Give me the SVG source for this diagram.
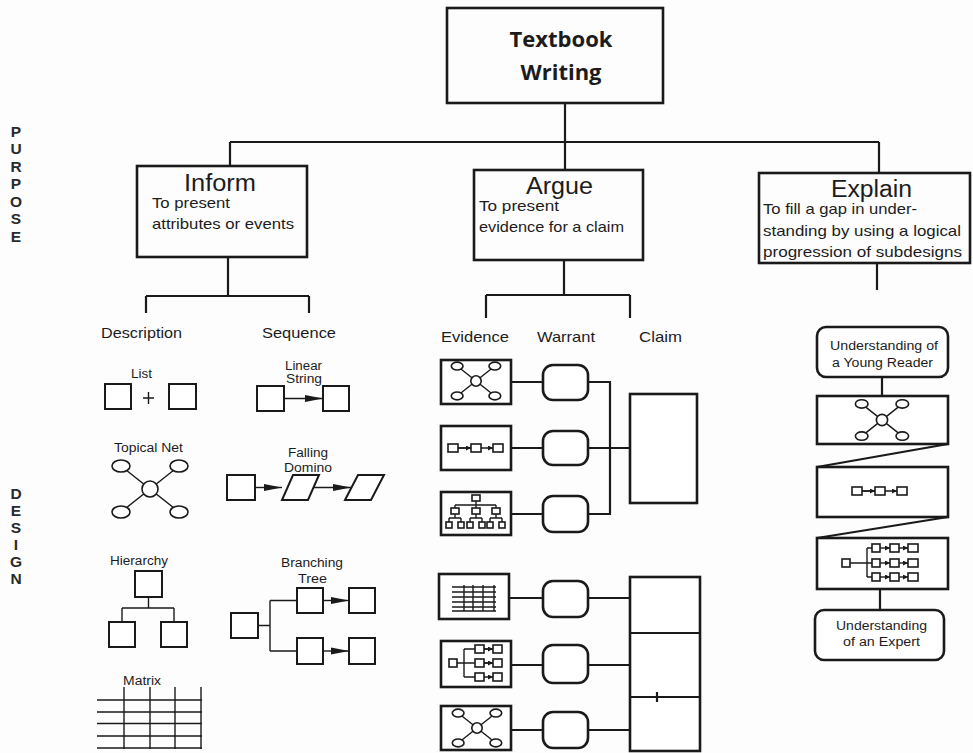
<svg xmlns="http://www.w3.org/2000/svg" xmlns:xlink="http://www.w3.org/1999/xlink" width="973" height="753" viewBox="0 0 973 753">
<style>
text{font-family:"Liberation Sans","Arial",sans-serif;fill:#1c1c1c}
.bx{fill:none;stroke:#1a1a1a;stroke-width:2.6}
.bxw{fill:#fff;stroke:#1a1a1a;stroke-width:2.6}
.ln{fill:none;stroke:#1a1a1a;stroke-width:2.2}
.ic{fill:#fff;stroke:#1a1a1a;stroke-width:1.6}
.icl{fill:none;stroke:#1a1a1a;stroke-width:1.4}
.sq{fill:#fff;stroke:#1a1a1a;stroke-width:2}
.ttl{font-family:"Liberation Sans Narrow","Liberation Sans",sans-serif;font-size:23px}
.sub{font-family:"Liberation Sans Narrow","Liberation Sans",sans-serif;font-size:15px}
.hd{font-size:15px}
.lb{font-size:12.5px}
.un{font-size:12.5px}
.side{font-size:15.5px;font-weight:bold;text-anchor:middle;fill:#2a2a2a}
.top{font-family:"Open Sans","Liberation Sans",sans-serif;font-weight:bold;font-size:22px;text-anchor:middle}
</style>
<defs>
<marker id="ba" markerUnits="userSpaceOnUse" markerWidth="18" markerHeight="9" refX="18" refY="4.5" orient="auto"><path d="M0,1 L18,4.5 L0,8 z" fill="#1a1a1a"/></marker>
<marker id="sa" markerUnits="userSpaceOnUse" markerWidth="5" markerHeight="5" refX="5" refY="2.5" orient="auto"><path d="M0,0 L5,2.5 L0,5 z" fill="#1a1a1a"/></marker>
<g id="net">
<path class="icl" vector-effect="non-scaling-stroke" stroke-width="1.8" d="M-29,-23 L29,23 M29,-23 L-29,23"/>
<circle class="ic" vector-effect="non-scaling-stroke" r="8"/>
<ellipse class="ic" vector-effect="non-scaling-stroke" cx="-29" cy="-23" rx="9" ry="6"/>
<ellipse class="ic" vector-effect="non-scaling-stroke" cx="29" cy="-23" rx="9" ry="6"/>
<ellipse class="ic" vector-effect="non-scaling-stroke" cx="-29" cy="23" rx="9" ry="6"/>
<ellipse class="ic" vector-effect="non-scaling-stroke" cx="29" cy="23" rx="9" ry="6"/>
</g>
<g id="chain">
<path class="icl" d="M10,0 H23 M33,0 H45" marker-end="url(#sa)"/>
<path class="icl" d="M10,0 H23" marker-end="url(#sa)"/>
<rect class="ic" x="0" y="-4" width="10" height="8"/>
<rect class="ic" x="23" y="-4" width="10" height="8"/>
<rect class="ic" x="45" y="-4" width="10" height="8"/>
</g>
</defs>
<rect width="973" height="753" fill="#fdfdfd"/>

<!-- side labels -->
<g id="purpose">
<text class="side" x="16" y="137">P</text>
<text class="side" x="16" y="154">U</text>
<text class="side" x="16" y="172">R</text>
<text class="side" x="16" y="189">P</text>
<text class="side" x="16" y="207">O</text>
<text class="side" x="16" y="224">S</text>
<text class="side" x="16" y="242">E</text>
</g>
<g id="design">
<text class="side" x="16" y="499">D</text>
<text class="side" x="16" y="516">E</text>
<text class="side" x="16" y="533">S</text>
<text class="side" x="16" y="550">I</text>
<text class="side" x="16" y="567">G</text>
<text class="side" x="16" y="584">N</text>
</g>

<!-- connectors -->
<g id="connectors">
<path class="ln" d="M565,103 V142 M230,142 H879 M230,142 V166 M565,142 V170 M879,142 V173"/>
<path class="ln" d="M228,257 V296 M146,296 H309 M146,296 V313 M309,296 V313"/>
<path class="ln" d="M564,260 V295 M486,295 H630 M486,295 V318 M630,295 V318"/>
<path class="ln" d="M877,263 V290"/>
<path class="ln" d="M511,382 H543 M588,382 H610 V514 H588 M511,448 H543 M588,448 H630 M511,514 H543"/>
<path class="ln" d="M509,598 H543 M588,598 H630 M511,665 H543 M588,665 H630 M511,730 H543 M588,730 H630"/>
<path class="ln" d="M882,377 V396 M880,589 V610"/>
<path class="ln" stroke-width="3" d="M948,444 L817,467 M948,517 L817,538"/>
</g>

<!-- top node -->
<g id="textbook-writing">
<rect class="bx" x="447" y="8" width="216" height="95"/>
<text class="top" x="561" y="47" textLength="103" lengthAdjust="spacingAndGlyphs">Textbook</text>
<text class="top" x="561" y="80" textLength="81" lengthAdjust="spacingAndGlyphs">Writing</text>
</g>

<g id="inform">
<rect class="bx" x="137" y="166" width="170" height="91"/>
<text class="ttl" x="184" y="191" textLength="72" lengthAdjust="spacingAndGlyphs">Inform</text>
<text class="sub" x="152" y="208" textLength="78" lengthAdjust="spacingAndGlyphs">To present</text>
<text class="sub" x="152" y="229" textLength="142" lengthAdjust="spacingAndGlyphs">attributes or events</text>
</g>

<g id="argue">
<rect class="bx" x="474" y="170" width="169" height="90"/>
<text class="ttl" x="526" y="194" textLength="67" lengthAdjust="spacingAndGlyphs">Argue</text>
<text class="sub" x="479" y="211" textLength="80" lengthAdjust="spacingAndGlyphs">To present</text>
<text class="sub" x="479" y="232" textLength="145" lengthAdjust="spacingAndGlyphs">evidence for a claim</text>
</g>

<g id="explain">
<rect class="bx" x="759" y="173" width="211" height="90"/>
<text class="ttl" x="831" y="197" textLength="81" lengthAdjust="spacingAndGlyphs">Explain</text>
<text class="sub" x="763" y="214" textLength="154" lengthAdjust="spacingAndGlyphs">To fill a gap in under-</text>
<text class="sub" x="763" y="236" textLength="198" lengthAdjust="spacingAndGlyphs">standing by using a logical</text>
<text class="sub" x="763" y="257" textLength="199" lengthAdjust="spacingAndGlyphs">progression of subdesigns</text>
</g>

<!-- Inform designs -->
<g id="description-label"><text class="hd" x="101" y="338" textLength="81" lengthAdjust="spacingAndGlyphs">Description</text></g>
<g id="sequence-label"><text class="hd" x="262" y="338" textLength="74" lengthAdjust="spacingAndGlyphs">Sequence</text></g>

<g id="list">
<text class="lb" x="131" y="378" textLength="21" lengthAdjust="spacingAndGlyphs">List</text>
<rect class="sq" x="105" y="384" width="26" height="25"/>
<rect class="sq" x="169" y="384" width="27" height="25"/>
<path class="icl" stroke-width="1.8" d="M143,398 H154 M148.5,392 V404"/>
</g>

<g id="linear-string">
<text class="lb" x="285" y="370" textLength="37" lengthAdjust="spacingAndGlyphs">Linear</text>
<text class="lb" x="286" y="383" textLength="36" lengthAdjust="spacingAndGlyphs">String</text>
<rect class="sq" x="257" y="386" width="27" height="25"/>
<rect class="sq" x="323" y="386" width="26" height="25"/>
<path class="icl" stroke-width="1.8" d="M284,398.5 H323" marker-end="url(#ba)"/>
</g>

<g id="topical-net">
<text class="lb" x="114" y="452" textLength="69" lengthAdjust="spacingAndGlyphs">Topical Net</text>
<use xlink:href="#net" transform="translate(150,489)"/>
</g>

<g id="falling-domino">
<text class="lb" x="288" y="457" textLength="40" lengthAdjust="spacingAndGlyphs">Falling</text>
<text class="lb" x="284" y="472" textLength="48" lengthAdjust="spacingAndGlyphs">Domino</text>
<rect class="sq" x="227" y="475" width="28" height="25"/>
<path class="icl" stroke-width="1.8" d="M255,487.5 H282" marker-end="url(#ba)"/>
<polygon class="sq" points="293,475 319,475 308,500 282,500"/>
<path class="icl" stroke-width="1.8" d="M313.5,487.5 H351" marker-end="url(#ba)"/>
<polygon class="sq" points="358,475 384,475 371,500 345,500"/>
</g>

<g id="hierarchy">
<text class="lb" x="110" y="565" textLength="58" lengthAdjust="spacingAndGlyphs">Hierarchy</text>
<rect class="sq" x="135" y="571" width="27" height="26"/>
<path class="icl" stroke-width="1.8" d="M148.5,597 V608 M122,608 H174 M122,608 V622 M174,608 V622"/>
<rect class="sq" x="109" y="622" width="26" height="25"/>
<rect class="sq" x="161" y="622" width="26" height="25"/>
</g>

<g id="branching-tree">
<text class="lb" x="281" y="567" textLength="62" lengthAdjust="spacingAndGlyphs">Branching</text>
<text class="lb" x="298" y="583" textLength="29" lengthAdjust="spacingAndGlyphs">Tree</text>
<rect class="sq" x="231" y="613" width="27" height="25"/>
<path class="icl" stroke-width="1.8" d="M258,625.5 H270 M270,600.5 V651 M270,600.5 H297 M270,651 H297"/>
<rect class="sq" x="297" y="588" width="26" height="25"/>
<rect class="sq" x="297" y="638" width="26" height="26"/>
<path class="icl" stroke-width="1.8" d="M323,600.5 H349" marker-end="url(#ba)"/>
<path class="icl" stroke-width="1.8" d="M323,651 H349" marker-end="url(#ba)"/>
<rect class="sq" x="349" y="588" width="26" height="25"/>
<rect class="sq" x="349" y="638" width="26" height="26"/>
</g>

<g id="matrix">
<text class="lb" x="123" y="685" textLength="38" lengthAdjust="spacingAndGlyphs">Matrix</text>
<path class="icl" stroke-width="1.9" d="M124,687 V749 M150,687 V749 M175,687 V749 M201,687 V749 M97,700 H202 M97,712 H202 M97,723.5 H202 M97,736 H202 M97,748 H202"/>
</g>

<!-- Argue designs -->
<g id="evidence-label"><text class="hd" x="441" y="342" textLength="68" lengthAdjust="spacingAndGlyphs">Evidence</text></g>
<g id="warrant-label"><text class="hd" x="537" y="342" textLength="58" lengthAdjust="spacingAndGlyphs">Warrant</text></g>
<g id="claim-label"><text class="hd" x="639" y="342" textLength="43" lengthAdjust="spacingAndGlyphs">Claim</text></g>

<g id="evidence-1">
<rect class="bxw" x="441" y="360" width="70" height="44"/>
<use xlink:href="#net" transform="translate(476,381) scale(0.65)"/>
</g>
<g id="evidence-2">
<rect class="bxw" x="441" y="426" width="70" height="44"/>
<use xlink:href="#chain" transform="translate(448,448)"/>
</g>
<g id="evidence-3">
<rect class="bxw" x="441" y="492" width="70" height="43"/>
<path class="icl" stroke-width="1.2" d="M476,501 V505 M455,505 H496 M455,505 V508 M476,505 V508 M496,505 V508 M455,514 V518 M476,514 V518 M496,514 V518 M449,518 H461 M470,518 H482 M490,518 H502 M449,518 V522 M461,518 V522 M470,518 V522 M482,518 V522 M490,518 V522 M502,518 V522"/>
<rect class="ic" stroke-width="1.3" x="472" y="495" width="8" height="6"/>
<rect class="ic" stroke-width="1.3" x="451" y="508" width="8" height="6"/>
<rect class="ic" stroke-width="1.3" x="472" y="508" width="8" height="6"/>
<rect class="ic" stroke-width="1.3" x="492" y="508" width="8" height="6"/>
<rect class="ic" stroke-width="1.3" x="446" y="522" width="6" height="6"/>
<rect class="ic" stroke-width="1.3" x="458" y="522" width="6" height="6"/>
<rect class="ic" stroke-width="1.3" x="467" y="522" width="6" height="6"/>
<rect class="ic" stroke-width="1.3" x="479" y="522" width="6" height="6"/>
<rect class="ic" stroke-width="1.3" x="487" y="522" width="6" height="6"/>
<rect class="ic" stroke-width="1.3" x="499" y="522" width="6" height="6"/>
</g>
<g id="evidence-4">
<rect class="bxw" x="439" y="574" width="70" height="45"/>
<path class="icl" stroke-width="1.3" d="M464,585 V611 M473,585 V611 M483,585 V611 M494,585 V611 M452,587 H496 M452,592 H496 M452,597 H496 M452,602 H496 M452,607 H496 M452,611 H496"/>
</g>
<g id="evidence-5">
<rect class="bxw" x="441" y="641" width="70" height="46"/>
<path class="icl" d="M457,663 H464 M464,649 V677 M464,649 H475 M464,663 H475 M464,677 H475"/>
<rect class="ic" x="449" y="659" width="8" height="8"/>
<rect class="ic" x="475" y="645" width="9" height="8"/>
<rect class="ic" x="475" y="659" width="9" height="8"/>
<rect class="ic" x="475" y="673" width="9" height="8"/>
<path class="icl" d="M484,649 H493 M484,663 H493 M484,677 H493" marker-end="url(#sa)"/>
<path class="icl" d="M484,649 H493" marker-end="url(#sa)"/>
<path class="icl" d="M484,663 H493" marker-end="url(#sa)"/>
<rect class="ic" x="493" y="645" width="9" height="8"/>
<rect class="ic" x="493" y="659" width="9" height="8"/>
<rect class="ic" x="493" y="673" width="9" height="8"/>
</g>
<g id="evidence-6">
<rect class="bxw" x="441" y="706" width="70" height="44"/>
<use xlink:href="#net" transform="translate(477,728) scale(0.65)"/>
</g>

<g id="warrant-1"><rect class="bxw" x="543" y="365" width="45" height="35" rx="10"/></g>
<g id="warrant-2"><rect class="bxw" x="543" y="431" width="45" height="34" rx="10"/></g>
<g id="warrant-3"><rect class="bxw" x="543" y="496" width="45" height="36" rx="10"/></g>
<g id="warrant-4"><rect class="bxw" x="543" y="581" width="45" height="36" rx="10"/></g>
<g id="warrant-5"><rect class="bxw" x="543" y="645" width="45" height="38" rx="10"/></g>
<g id="warrant-6"><rect class="bxw" x="543" y="712" width="45" height="36" rx="10"/></g>

<g id="claim-1"><rect class="bxw" x="630" y="394" width="67" height="109"/></g>
<g id="claim-2">
<rect class="bxw" x="630" y="577" width="70" height="174"/>
<path class="ln" d="M630,633 H700 M630,697 H700"/>
<path class="ln" d="M657,692 V702"/>
</g>

<!-- Explain designs -->
<g id="young-reader">
<rect class="bxw" x="817" y="327" width="131" height="50" rx="9"/>
<text class="un" x="830" y="350" textLength="108" lengthAdjust="spacingAndGlyphs">Understanding of</text>
<text class="un" x="832" y="367" textLength="101" lengthAdjust="spacingAndGlyphs">a Young Reader</text>
</g>
<g id="subdesign-net">
<rect class="bxw" x="817" y="396" width="131" height="48"/>
<use xlink:href="#net" transform="translate(882,420) scale(0.7)"/>
</g>
<g id="subdesign-chain">
<rect class="bxw" x="817" y="467" width="131" height="50"/>
<use xlink:href="#chain" transform="translate(852,491)"/>
</g>
<g id="subdesign-branch">
<rect class="bxw" x="817" y="538" width="131" height="51"/>
<path class="icl" d="M850,563 H867 M867,548 V577 M867,548 H872 M867,563 H872 M867,577 H872"/>
<rect class="ic" x="842" y="559" width="8" height="8"/>
<rect class="ic" x="872" y="544" width="8" height="8"/>
<rect class="ic" x="872" y="559" width="8" height="8"/>
<rect class="ic" x="872" y="573" width="8" height="8"/>
<path class="icl" d="M880,548 H890" marker-end="url(#sa)"/>
<path class="icl" d="M880,563 H890" marker-end="url(#sa)"/>
<path class="icl" d="M880,577 H890" marker-end="url(#sa)"/>
<rect class="ic" x="890" y="544" width="9" height="8"/>
<rect class="ic" x="890" y="559" width="9" height="8"/>
<rect class="ic" x="890" y="573" width="9" height="8"/>
<path class="icl" d="M899,548 H908" marker-end="url(#sa)"/>
<path class="icl" d="M899,563 H908" marker-end="url(#sa)"/>
<path class="icl" d="M899,577 H908" marker-end="url(#sa)"/>
<rect class="ic" x="908" y="544" width="10" height="8"/>
<rect class="ic" x="908" y="559" width="10" height="8"/>
<rect class="ic" x="908" y="573" width="10" height="8"/>
</g>
<g id="expert">
<rect class="bxw" x="815" y="610" width="129" height="50" rx="9"/>
<text class="un" x="836" y="630" textLength="91" lengthAdjust="spacingAndGlyphs">Understanding</text>
<text class="un" x="843" y="646" textLength="77" lengthAdjust="spacingAndGlyphs">of an Expert</text>
</g>
</svg>
